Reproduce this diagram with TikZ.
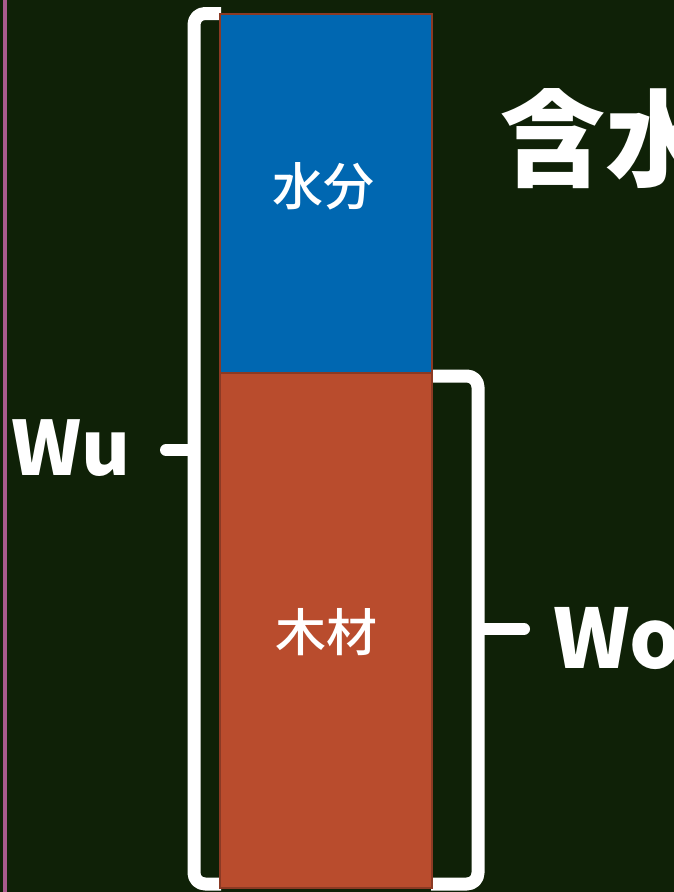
\documentclass[tikz,border=0pt]{standalone}
\usepackage{fontspec}
\setmainfont{Noto Sans CJK JP}
\newfontfamily\cjkmed{Noto Sans CJK JP Medium}
\definecolor{bg}{HTML}{0F2107}
\definecolor{pinkline}{HTML}{A85A8C}
\definecolor{waterblue}{HTML}{0067B1}
\definecolor{woodred}{HTML}{B94C2D}
\definecolor{edgered}{HTML}{8B3A24}
\tikzset{
  part/.style={draw=edgered, line width=2pt, minimum width=212pt, inner sep=0pt, outer sep=0pt},
  bracestroke/.style={draw=white, line width=13pt, rounded corners=11pt, line join=round},
  bracetip/.style={draw=white, line width=12pt, line cap=round},
  lbl/.style={text=white, inner sep=0pt}
}
\begin{document}
\begin{tikzpicture}[x=1pt,y=-1pt]
\useasboundingbox (0,0) rectangle (674,892);
\fill[bg] (0,0) rectangle (674,892);
\fill[pinkline] (2.5,0) rectangle (6.5,892);
\begin{scope}
\clip (0,0) rectangle (674,892);
% braces
\draw[bracestroke] (221,13.5) -- (194,13.5) -- (194,884) -- (221,884);
\draw[bracetip] (194,450) -- (166,450);
\draw[bracestroke] (431,376) -- (478,376) -- (478,884) -- (431,884);
\draw[bracetip] (478,629) -- (524,629);
% parts
\node[part, fill=waterblue, minimum height=359pt] (water) at (326,193.5) {};
\node[part, fill=woodred, minimum height=515pt] (wood) at (326,630.5) {};
\node[lbl, font=\cjkmed\fontsize{51}{51}\selectfont] (wlabel) at (323,186) {水分};
\node[lbl, font=\cjkmed\fontsize{51}{51}\selectfont] (mlabel) at (326,632) {木材};
\node[lbl, font=\bfseries\fontsize{75}{75}\selectfont, anchor=base west] (wu) at (11,475) {Wu};
\node[lbl, font=\bfseries\fontsize{82}{82}\selectfont, anchor=base west] (wo) at (553,668) {Wo};
\node[lbl, font=\bfseries\fontsize{105}{105}\selectfont, anchor=west] (title) at (500,139) {含水};
\end{scope}
\end{tikzpicture}
\end{document}
